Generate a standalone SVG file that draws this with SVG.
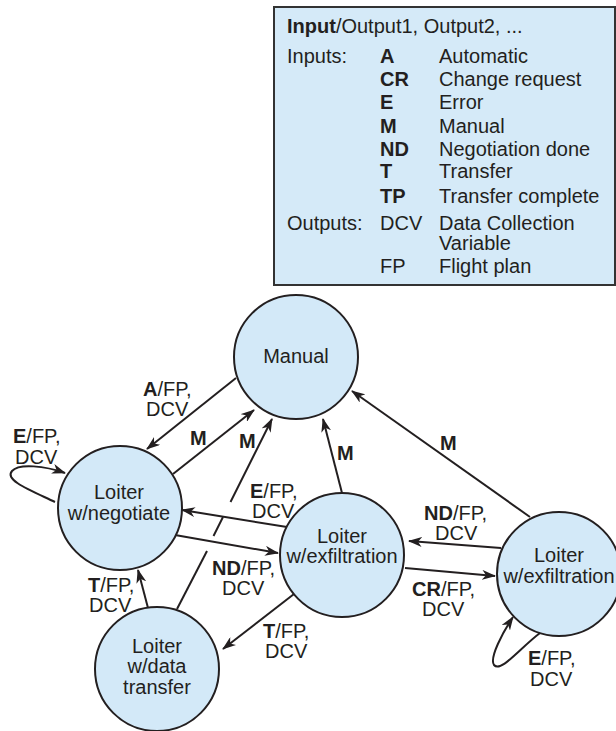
<svg xmlns="http://www.w3.org/2000/svg" width="616" height="731" viewBox="0 0 616 731">
  <style>
    text { font-family: "Liberation Sans", Arial, Helvetica, sans-serif; font-size: 20px; fill: #231f20; }
    .b { font-weight: bold; }
    .c { text-anchor: middle; }
    .state { fill: #d3e9f8; stroke: #231f20; stroke-width: 2; }
    .edge { fill: none; stroke: #231f20; stroke-width: 2; }
    .arr { marker-end: url(#head); }
  </style>
  <defs>
    <marker id="head" viewBox="0 0 14 10" refX="13" refY="5" markerWidth="14" markerHeight="10" markerUnits="userSpaceOnUse" orient="auto">
      <path d="M0,0 L14,5 L0,10 L4,5 Z" fill="#231f20"/>
    </marker>
  </defs>
  <rect width="616" height="731" fill="#ffffff"/>

  <!-- Key -->
  <g id="legend">
    <rect x="274" y="7" width="341" height="278" fill="#d5eaf8" stroke="#333333" stroke-width="2"/>
    <text x="287" y="33"><tspan class="b">Input</tspan>/Output1, Output2, ...</text>
    <text x="287" y="63">Inputs:</text>
    <text x="380" y="63" class="b">A</text><text x="439" y="63">Automatic</text>
    <text x="380" y="86" class="b">CR</text><text x="439" y="86">Change request</text>
    <text x="380" y="109" class="b">E</text><text x="439" y="109">Error</text>
    <text x="380" y="133" class="b">M</text><text x="439" y="133">Manual</text>
    <text x="380" y="156" class="b">ND</text><text x="439" y="156">Negotiation done</text>
    <text x="380" y="178" class="b">T</text><text x="439" y="178">Transfer</text>
    <text x="380" y="203" class="b">TP</text><text x="439" y="203">Transfer complete</text>
    <text x="287" y="230">Outputs:</text>
    <text x="380" y="230">DCV</text><text x="439" y="230">Data Collection</text>
    <text x="439" y="250">Variable</text>
    <text x="380" y="273">FP</text><text x="439" y="273">Flight plan</text>
  </g>

  <!-- Transitions -->
  <g id="connectors">
    <line class="edge arr" x1="236" y1="378" x2="147" y2="449"/>
    <line class="edge arr" x1="173" y1="474" x2="254" y2="410"/>
    <!-- transfer to manual, broken where it crosses the two horizontal arrows -->
    <line class="edge" x1="177" y1="609" x2="207" y2="551"/>
    <line class="edge" x1="213.5" y1="536" x2="223" y2="517"/>
    <line class="edge arr" x1="230.5" y1="502" x2="272" y2="419"/>
    <line class="edge arr" x1="342" y1="493" x2="323" y2="419"/>
    <line class="edge arr" x1="530" y1="517" x2="352" y2="391"/>
    <line class="edge arr" x1="287" y1="527" x2="182" y2="510"/>
    <line class="edge arr" x1="175" y1="535" x2="278" y2="553"/>
    <line class="edge arr" x1="294" y1="594" x2="223" y2="649"/>
    <line class="edge arr" x1="148" y1="608" x2="138" y2="570"/>
    <line class="edge arr" x1="501" y1="548" x2="409" y2="541"/>
    <line class="edge arr" x1="405" y1="568" x2="495" y2="576"/>
    <path class="edge arr" d="M55,502 C30,490 4,480 12,471 C19,463 45,466 65,473"/>
    <path class="edge arr" d="M540,633 C520,648 501,673 494,665 C489,658 503,632 513,617"/>
  </g>

  <!-- Transition labels -->
  <g id="labels">
    <text x="143" y="396"><tspan class="b">A</tspan>/FP,</text>
    <text x="146" y="416">DCV</text>
    <text x="13" y="443"><tspan class="b">E</tspan>/FP,</text>
    <text x="15" y="464">DCV</text>
    <text x="190" y="445" class="b">M</text>
    <text x="239" y="448" class="b">M</text>
    <text x="337" y="460" class="b">M</text>
    <text x="440" y="450" class="b">M</text>
    <text x="250" y="498"><tspan class="b">E</tspan>/FP,</text>
    <text x="252" y="518">DCV</text>
    <text x="212" y="575"><tspan class="b">ND</tspan>/FP,</text>
    <text x="222" y="595">DCV</text>
    <text x="88" y="592"><tspan class="b">T</tspan>/FP,</text>
    <text x="89" y="612">DCV</text>
    <text x="263" y="638"><tspan class="b">T</tspan>/FP,</text>
    <text x="265" y="658">DCV</text>
    <text x="424" y="520"><tspan class="b">ND</tspan>/FP,</text>
    <text x="435" y="540">DCV</text>
    <text x="412" y="596"><tspan class="b">CR</tspan>/FP,</text>
    <text x="422" y="616">DCV</text>
    <text x="528" y="665"><tspan class="b">E</tspan>/FP,</text>
    <text x="530" y="686">DCV</text>
  </g>

  <!-- States -->
  <g id="manual">
    <circle class="state" cx="296" cy="357" r="62"/>
    <text class="c" x="296" y="363">Manual</text>
  </g>
  <g id="loiter-negotiate">
    <circle class="state" cx="120" cy="508" r="62"/>
    <text class="c" x="119" y="499">Loiter</text>
    <text class="c" x="119" y="520">w/negotiate</text>
  </g>
  <g id="loiter-exfiltration-mid">
    <circle class="state" cx="342" cy="555" r="62"/>
    <text class="c" x="342" y="543">Loiter</text>
    <text class="c" x="342" y="563">w/exfiltration</text>
  </g>
  <g id="loiter-exfiltration-right">
    <circle class="state" cx="559" cy="574" r="62"/>
    <text class="c" x="559" y="562">Loiter</text>
    <text class="c" x="559" y="583">w/exfiltration</text>
  </g>
  <g id="loiter-data-transfer">
    <circle class="state" cx="157" cy="669" r="62"/>
    <text class="c" x="157" y="653">Loiter</text>
    <text class="c" x="157" y="673">w/data</text>
    <text class="c" x="157" y="694">transfer</text>
  </g>
</svg>
